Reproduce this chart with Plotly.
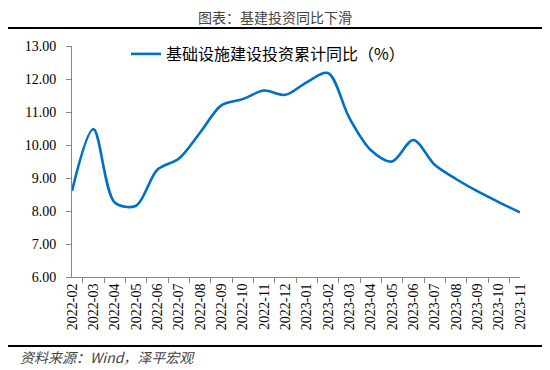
import plotly.graph_objects as go

months = ["2022-02", "2022-03", "2022-04", "2022-05", "2022-06", "2022-07", "2022-08",
          "2022-09", "2022-10", "2022-11", "2022-12", "2023-01", "2023-02", "2023-03",
          "2023-04", "2023-05", "2023-06", "2023-07", "2023-08", "2023-09", "2023-10", "2023-11"]
infra_yoy = [8.61, 10.48, 8.26, 8.16, 9.25, 9.58, 10.37, 11.20, 11.39, 11.65, 11.52, 11.90,
             12.18, 10.82, 9.85, 9.50, 10.15, 9.40, 8.97, 8.60, 8.27, 7.96]
y_ticks = [6, 7, 8, 9, 10, 11, 12, 13]
series_name = "基础设施建设投资累计同比（%）"
title_text = "图表：基建投资同比下滑"
source_text = "资料来源：Wind，泽平宏观"

serif = "Liberation Serif, Times New Roman, serif"
cjk = "Noto Sans CJK SC, sans-serif"

# The page body has an 8px default margin; lay out in reference-pixel terms
OFF = 8
W, H = 550 - OFF, 370 - OFF
L, T = 72 - OFF, 46 - OFF
R = 550 - 520
B = 370 - 277
pw, ph = W - L - R, H - T - B

def px_x(x):
    return (x - OFF - L) / pw

def px_y(y):
    return (H - B - (y - OFF)) / ph

fig = go.Figure()
fig.add_trace(go.Scatter(
    x=months, y=infra_yoy, mode="lines", name=series_name,
    line=dict(color="#0070C0", width=2.6, shape="spline", smoothing=0.9),
))

fig.update_layout(
    width=W, height=H,
    margin=dict(l=L, r=R, t=T, b=B, autoexpand=False),
    paper_bgcolor="white", plot_bgcolor="white",
    showlegend=True,
    legend=dict(x=px_x(126), y=px_y(54), xanchor="left", yanchor="middle",
                font=dict(family=cjk, size=16, color="#000"),
                bgcolor="rgba(0,0,0,0)"),
    xaxis=dict(
        type="category", tickson="boundaries", ticks="outside", ticklen=5,
        tickcolor="#888", showline=True, linecolor="#888", linewidth=1,
        tickangle=-90, tickfont=dict(family=serif, size=14, color="#000"),
        showgrid=False, zeroline=False, automargin=False,
    ),
    yaxis=dict(
        range=[6, 13], tickvals=y_ticks, tickformat=".2f",
        ticks="outside", ticklen=5, tickcolor="#888",
        showline=True, linecolor="#888", linewidth=1,
        tickfont=dict(family=serif, size=14, color="#000"),
        ticklabelstandoff=7,
        showgrid=False, zeroline=False, automargin=False,
    ),
    annotations=[
        dict(text=title_text, x=px_x(275), y=px_y(17), xref="paper", yref="paper",
             showarrow=False, xanchor="center", yanchor="middle",
             font=dict(family=cjk, size=14, color="#444")),
        dict(text="<i>" + source_text + "</i>", x=px_x(18), y=px_y(357),
             xref="paper", yref="paper", showarrow=False,
             xanchor="left", yanchor="middle",
             font=dict(family=cjk, size=14, color="#444")),
    ],
)

def hline(ypix, x0pix, x1pix, w):
    fig.add_shape(type="line", xref="paper", yref="paper",
                  x0=px_x(x0pix), x1=px_x(x1pix), y0=px_y(ypix), y1=px_y(ypix),
                  line=dict(color="#000", width=w))

hline(28, 8, 543, 2.2)
hline(346, 8, 543, 2.2)

fig.write_html("out.html")
